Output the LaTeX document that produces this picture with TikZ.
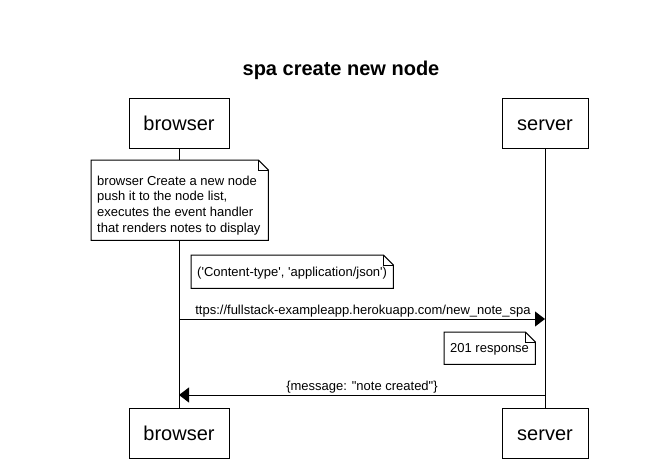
\documentclass[tikz,border=0pt]{standalone}
\usepackage{fontspec}
\setmainfont{Liberation Sans}[Ligatures=TeXOff]
\usetikzlibrary{arrows.meta}
\newcommand\drawnotebox[1]{%
  \draw[line width=1pt, fill=white, line join=miter]
    (#1.north west) -- ([xshift=-10pt]#1.north east) -- ([yshift=-10pt]#1.north east)
    -- (#1.south east) -- (#1.south west) -- cycle;
  \draw[line width=0.8pt]
    ([xshift=-10pt]#1.north east) -- ([xshift=-10pt,yshift=-10pt]#1.north east)
    -- ([yshift=-10pt]#1.north east);}
\begin{document}
\begin{tikzpicture}[x=1pt,y=-1pt,
  actor/.style={draw, line width=1pt, fill=white, minimum height=50pt, inner sep=0pt,
    text height=14.5pt, text depth=0pt, font=\fontsize{20}{24}\selectfont},
  life/.style={line width=1pt},
  msg/.style={line width=1pt, -{Triangle[length=10pt,width=15pt]}},
  noteframe/.style={draw=none, inner sep=0pt, anchor=north west},
  notetxt/.style={anchor=base west, inner sep=0pt, font=\fontsize{13}{15.7}\selectfont},
  msgtxt/.style={anchor=base, inner sep=0pt, font=\fontsize{13}{15.7}\selectfont},
  ]
\useasboundingbox[fill=white] (0,0) rectangle (666,471);

% title
\node[anchor=base, inner sep=0pt, font=\fontsize{20}{24}\selectfont\bfseries] (title) at (341,75) {spa create new node};

% participants
\node[actor, minimum width=100pt] (bt) at (179,123) {browser};
\node[actor, minimum width=86pt] (st) at (545,123) {server};
\node[actor, minimum width=100pt] (bb) at (179,433) {browser};
\node[actor, minimum width=86pt] (sb) at (545,433) {server};

% lifelines
\draw[life] (bt.south) -- (bb.north);
\draw[life] (st.south) -- (sb.north);

% note 1
\node[noteframe, minimum width=177pt, minimum height=80pt] (n1) at (91,160) {};
\drawnotebox{n1}
\node[notetxt] (n1a) at (97,185) {browser Create a new node};
\node[notetxt] (n1b) at (97,200.7) {push it to the node list,};
\node[notetxt] (n1c) at (97,216.4) {executes the event handler};
\node[notetxt] (n1d) at (97,232) {that renders notes to display};

% note 2
\node[noteframe, minimum width=202pt, minimum height=33pt] (n2) at (191,255) {};
\drawnotebox{n2}
\node[notetxt] (n2a) at (197,276) {('Content-type', 'application/json')};

% message 1
\coordinate (m1s) at (179,319);
\coordinate (m1e) at (545,319);
\draw[msg] (m1s) -- (m1e);
\node[msgtxt] (m1t) at (363,314) {ttps://fullstack-exampleapp.herokuapp.com/new\_note\_spa};

% note 3
\node[noteframe, minimum width=91pt, minimum height=32pt] (n3) at (444,332) {};
\drawnotebox{n3}
\node[notetxt] (n3a) at (450,352.5) {201 response};

% message 2
\coordinate (m2s) at (545,395);
\coordinate (m2e) at (179,395);
\draw[msg] (m2s) -- (m2e);
\node[msgtxt] (m2t) at (362,390.5) {\{message: "note created"\}};
\end{tikzpicture}
\end{document}
